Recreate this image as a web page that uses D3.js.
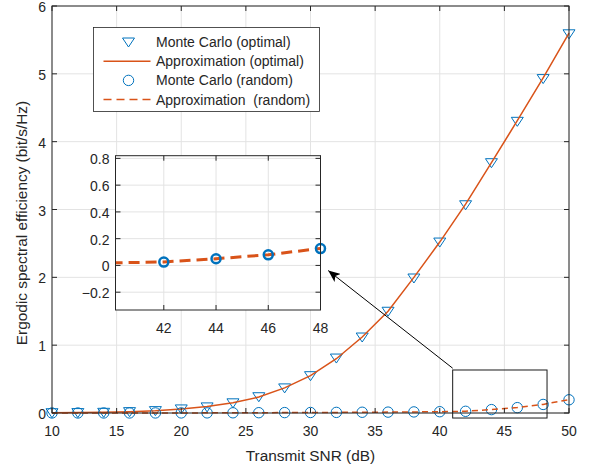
<html lang='eng'>
    <head>
        <title>Ergodic spectral efficiency</title>
        <script src="https://d3js.org/d3.v7.min.js" charset="utf-8"></script>
        <style>
        body{
          margin: 0;
          background: white;
          font-family: "Liberation Sans", Arial, sans-serif;
        }
        text { fill: #262626; white-space: pre; }
        </style>
    </head>
    <body>
        <script>
            //Data
            var snr = [10,12,14,16,18,20,22,24,26,28,30,32,34,36,38,40,42,44,46,48,50];
            var mcOptimal = [0.004,0.006,0.01,0.02,0.035,0.06,0.09,0.15,0.24,0.37,0.55,0.81,1.12,1.50,1.99,2.52,3.07,3.69,4.30,4.93,5.59];
            var approxOptimal = [0.004,0.006,0.01,0.02,0.035,0.06,0.095,0.15,0.235,0.37,0.55,0.80,1.12,1.50,2.0,2.52,3.08,3.69,4.31,4.94,5.60];
            var mcRandom = [0.0002,0.0003,0.0004,0.0006,0.0009,0.0013,0.002,0.003,0.0045,0.006,0.0075,0.009,0.011,0.013,0.016,0.019,0.025,0.05,0.079,0.126,0.195];
            var approxRandom = [0.0002,0.0003,0.0004,0.0006,0.0009,0.0013,0.002,0.003,0.0045,0.006,0.0075,0.009,0.011,0.013,0.016,0.019,0.026,0.05,0.08,0.127,0.197];

            var xTicks = [10,15,20,25,30,35,40,45,50];
            var yTicks = [0,1,2,3,4,5,6];
            var insetXTicks = [42,44,46,48];
            var insetYTicks = [-0.2,0,0.2,0.4,0.6,0.8];
            var legendLabels = ["Monte Carlo (optimal)", "Approximation (optimal)", "Monte Carlo (random)", "Approximation  (random)"];

            //zoom box and arrow in main axis units
            var zoomBox = {x0: 41.0, x1: 48.3, y0: -0.074, y1: 0.634};
            var arrowFrom = [41.0, 0.66], arrowTo = [31.37, 2.10];

            var blue = "#0072BD", orange = "#D95319", axisCol = "#262626", gridCol = "#e3e3e3";
            var width = 590, height = 468;

            var svg = d3.select("body").append("svg")
                        .attr("width", width)
                        .attr("height", height);

            var x = d3.scaleLinear().domain([10, 50]).range([52, 569]);
            var y = d3.scaleLinear().domain([0, 6]).range([413, 6]);

            var tri = "M-6,-4L6,-4L0,5Z";

            function drawGrid(g, xs, ys, xt, yt) {
              var xr = xs.range(), yr = ys.range();
              g.append("g").selectAll("line").data(xt).enter().append("line")
                .attr("x1", xs).attr("x2", xs).attr("y1", yr[0]).attr("y2", yr[1])
                .attr("stroke", gridCol).attr("stroke-width", 1);
              g.append("g").selectAll("line").data(yt).enter().append("line")
                .attr("y1", ys).attr("y2", ys).attr("x1", xr[0]).attr("x2", xr[1])
                .attr("stroke", gridCol).attr("stroke-width", 1);
            }

            function drawFrame(g, xs, ys, xt, yt, fmtY) {
              var xr = xs.range(), yr = ys.range(), tl = 5;
              g.append("rect")
                .attr("x", xr[0]).attr("y", yr[1])
                .attr("width", xr[1]-xr[0]).attr("height", yr[0]-yr[1])
                .attr("fill", "none").attr("stroke", axisCol).attr("stroke-width", 1);
              xt.forEach(function(t){
                g.append("line").attr("x1", xs(t)).attr("x2", xs(t)).attr("y1", yr[0]).attr("y2", yr[0]-tl).attr("stroke", axisCol);
                g.append("line").attr("x1", xs(t)).attr("x2", xs(t)).attr("y1", yr[1]).attr("y2", yr[1]+tl).attr("stroke", axisCol);
                g.append("text").attr("x", xs(t)).attr("y", yr[0]+23)
                  .attr("text-anchor", "middle").attr("font-size", "14px").text(t);
              });
              yt.forEach(function(t){
                g.append("line").attr("y1", ys(t)).attr("y2", ys(t)).attr("x1", xr[0]).attr("x2", xr[0]+tl).attr("stroke", axisCol);
                g.append("line").attr("y1", ys(t)).attr("y2", ys(t)).attr("x1", xr[1]).attr("x2", xr[1]-tl).attr("stroke", axisCol);
                g.append("text").attr("x", xr[0]-6).attr("y", ys(t)+6)
                  .attr("text-anchor", "end").attr("font-size", "14px").text(fmtY(t));
              });
            }

            var main = svg.append("g");
            main.append("rect").attr("x", 52).attr("y", 6).attr("width", 517).attr("height", 407).attr("fill", "white");
            drawGrid(main, x, y, xTicks, yTicks);

            var plot = main.append("g");
            //Monte Carlo optimal
            plot.selectAll(".tri").data(snr).enter().append("path")
                .attr("d", tri)
                .attr("transform", function(d, i){ return "translate(" + x(d) + "," + y(mcOptimal[i]) + ")"; })
                .attr("fill", "none").attr("stroke", blue).attr("stroke-width", 1);

            var line = d3.line().x(function(d){ return x(d[0]); }).y(function(d){ return y(d[1]); });
            plot.append("path")
                .datum(snr.map(function(d, i){ return [d, approxOptimal[i]]; }))
                .attr("d", line).attr("fill", "none").attr("stroke", orange).attr("stroke-width", 1.5);

            plot.selectAll(".circ").data(snr).enter().append("circle")
                .attr("cx", function(d){ return x(d); })
                .attr("cy", function(d, i){ return y(mcRandom[i]); })
                .attr("r", 5.2)
                .attr("fill", "none").attr("stroke", blue).attr("stroke-width", 1);

            plot.append("path")
                .datum(snr.map(function(d, i){ return [d, approxRandom[i]]; }))
                .attr("d", line).attr("fill", "none").attr("stroke", orange)
                .attr("stroke-width", 1.5).attr("stroke-dasharray", "6,4");

            drawFrame(main, x, y, xTicks, yTicks, function(t){ return t; });

            //Axis labels
            svg.append("text").attr("x", (52+569)/2).attr("y", 461)
               .attr("text-anchor", "middle").attr("font-size", "15.4px").text("Transmit SNR (dB)");
            svg.append("text").attr("transform", "translate(27," + 223 + ") rotate(-90)")
               .attr("text-anchor", "middle").attr("font-size", "15.4px").text("Ergodic spectral efficiency (bit/s/Hz)");

            //Zoom rectangle
            svg.append("rect")
               .attr("x", x(zoomBox.x0)).attr("y", y(zoomBox.y1))
               .attr("width", x(zoomBox.x1) - x(zoomBox.x0))
               .attr("height", y(zoomBox.y0) - y(zoomBox.y1))
               .attr("fill", "none").attr("stroke", "#1a1a1a").attr("stroke-width", 1);

            //Arrow
            svg.append("defs").append("marker")
               .attr("id", "arrowHead")
               .attr("viewBox", "0 0 12 10").attr("refX", 12).attr("refY", 5)
               .attr("markerWidth", 12).attr("markerHeight", 10)
               .attr("markerUnits", "userSpaceOnUse")
               .attr("orient", "auto")
               .append("path").attr("d", "M0,0L12,5L0,10L3,5Z").attr("fill", "black");
            svg.append("line")
               .attr("x1", x(arrowFrom[0])).attr("y1", y(arrowFrom[1]))
               .attr("x2", x(arrowTo[0])).attr("y2", y(arrowTo[1]))
               .attr("stroke", "black").attr("stroke-width", 1)
               .attr("marker-end", "url(#arrowHead)");

            //Legend
            var lg = svg.append("g").attr("transform", "translate(93.5,27.5)");
            lg.append("rect").attr("width", 226).attr("height", 84)
              .attr("fill", "white").attr("stroke", axisCol).attr("stroke-width", 0.8);
            legendLabels.forEach(function(lab, i){
              var cy = 14.5 + i * 19.2;
              if (i == 0) {
                lg.append("path").attr("d", tri).attr("transform", "translate(35," + cy + ")")
                  .attr("fill", "none").attr("stroke", blue);
              } else if (i == 2) {
                lg.append("circle").attr("cx", 35).attr("cy", cy).attr("r", 5.2)
                  .attr("fill", "none").attr("stroke", blue);
              } else {
                lg.append("line").attr("x1", 10).attr("x2", 57).attr("y1", cy).attr("y2", cy)
                  .attr("stroke", orange).attr("stroke-width", 1.5)
                  .attr("stroke-dasharray", i == 3 ? "8,5" : null);
              }
              lg.append("text").attr("x", 62.5).attr("y", cy + 5).attr("font-size", "14px").text(lab);
            });

            //Inset
            var ix = d3.scaleLinear().domain([40.15, 48]).range([115.5, 320.5]);
            var iy = d3.scaleLinear().domain([-0.333, 0.82]).range([310, 155.7]);
            var inset = svg.append("g");
            inset.append("rect").attr("x", 115.5).attr("y", 155.7).attr("width", 205).attr("height", 154.3).attr("fill", "white");
            drawGrid(inset, ix, iy, insetXTicks, insetYTicks);

            svg.append("clipPath").attr("id", "insetClip").append("rect")
               .attr("x", 115.5).attr("y", 150).attr("width", 212).attr("height", 160);

            var iline = d3.line().x(function(d){ return ix(d[0]); }).y(function(d){ return iy(d[1]); });
            var iData = snr.map(function(d, i){ return [d, approxRandom[i]]; })
                           .filter(function(d){ return d[0] >= 40 && d[0] <= 48; });
            inset.append("g").attr("clip-path", "url(#insetClip)")
                 .append("path").datum(iData)
                 .attr("d", iline).attr("fill", "none").attr("stroke", orange)
                 .attr("stroke-width", 3).attr("stroke-dasharray", "11,6");
            inset.selectAll(".icirc")
                 .data(snr.map(function(d, i){ return [d, mcRandom[i]]; })
                          .filter(function(d){ return d[0] >= 41 && d[0] <= 48; }))
                 .enter().append("circle")
                 .attr("cx", function(d){ return ix(d[0]); })
                 .attr("cy", function(d){ return iy(d[1]); })
                 .attr("r", 4.5)
                 .attr("fill", "none").attr("stroke", blue).attr("stroke-width", 2.5);

            drawFrame(inset, ix, iy, insetXTicks, insetYTicks, function(t){ return t == 0 ? "0" : d3.format(".1f")(t); });
        </script>
    </body>
</html>
